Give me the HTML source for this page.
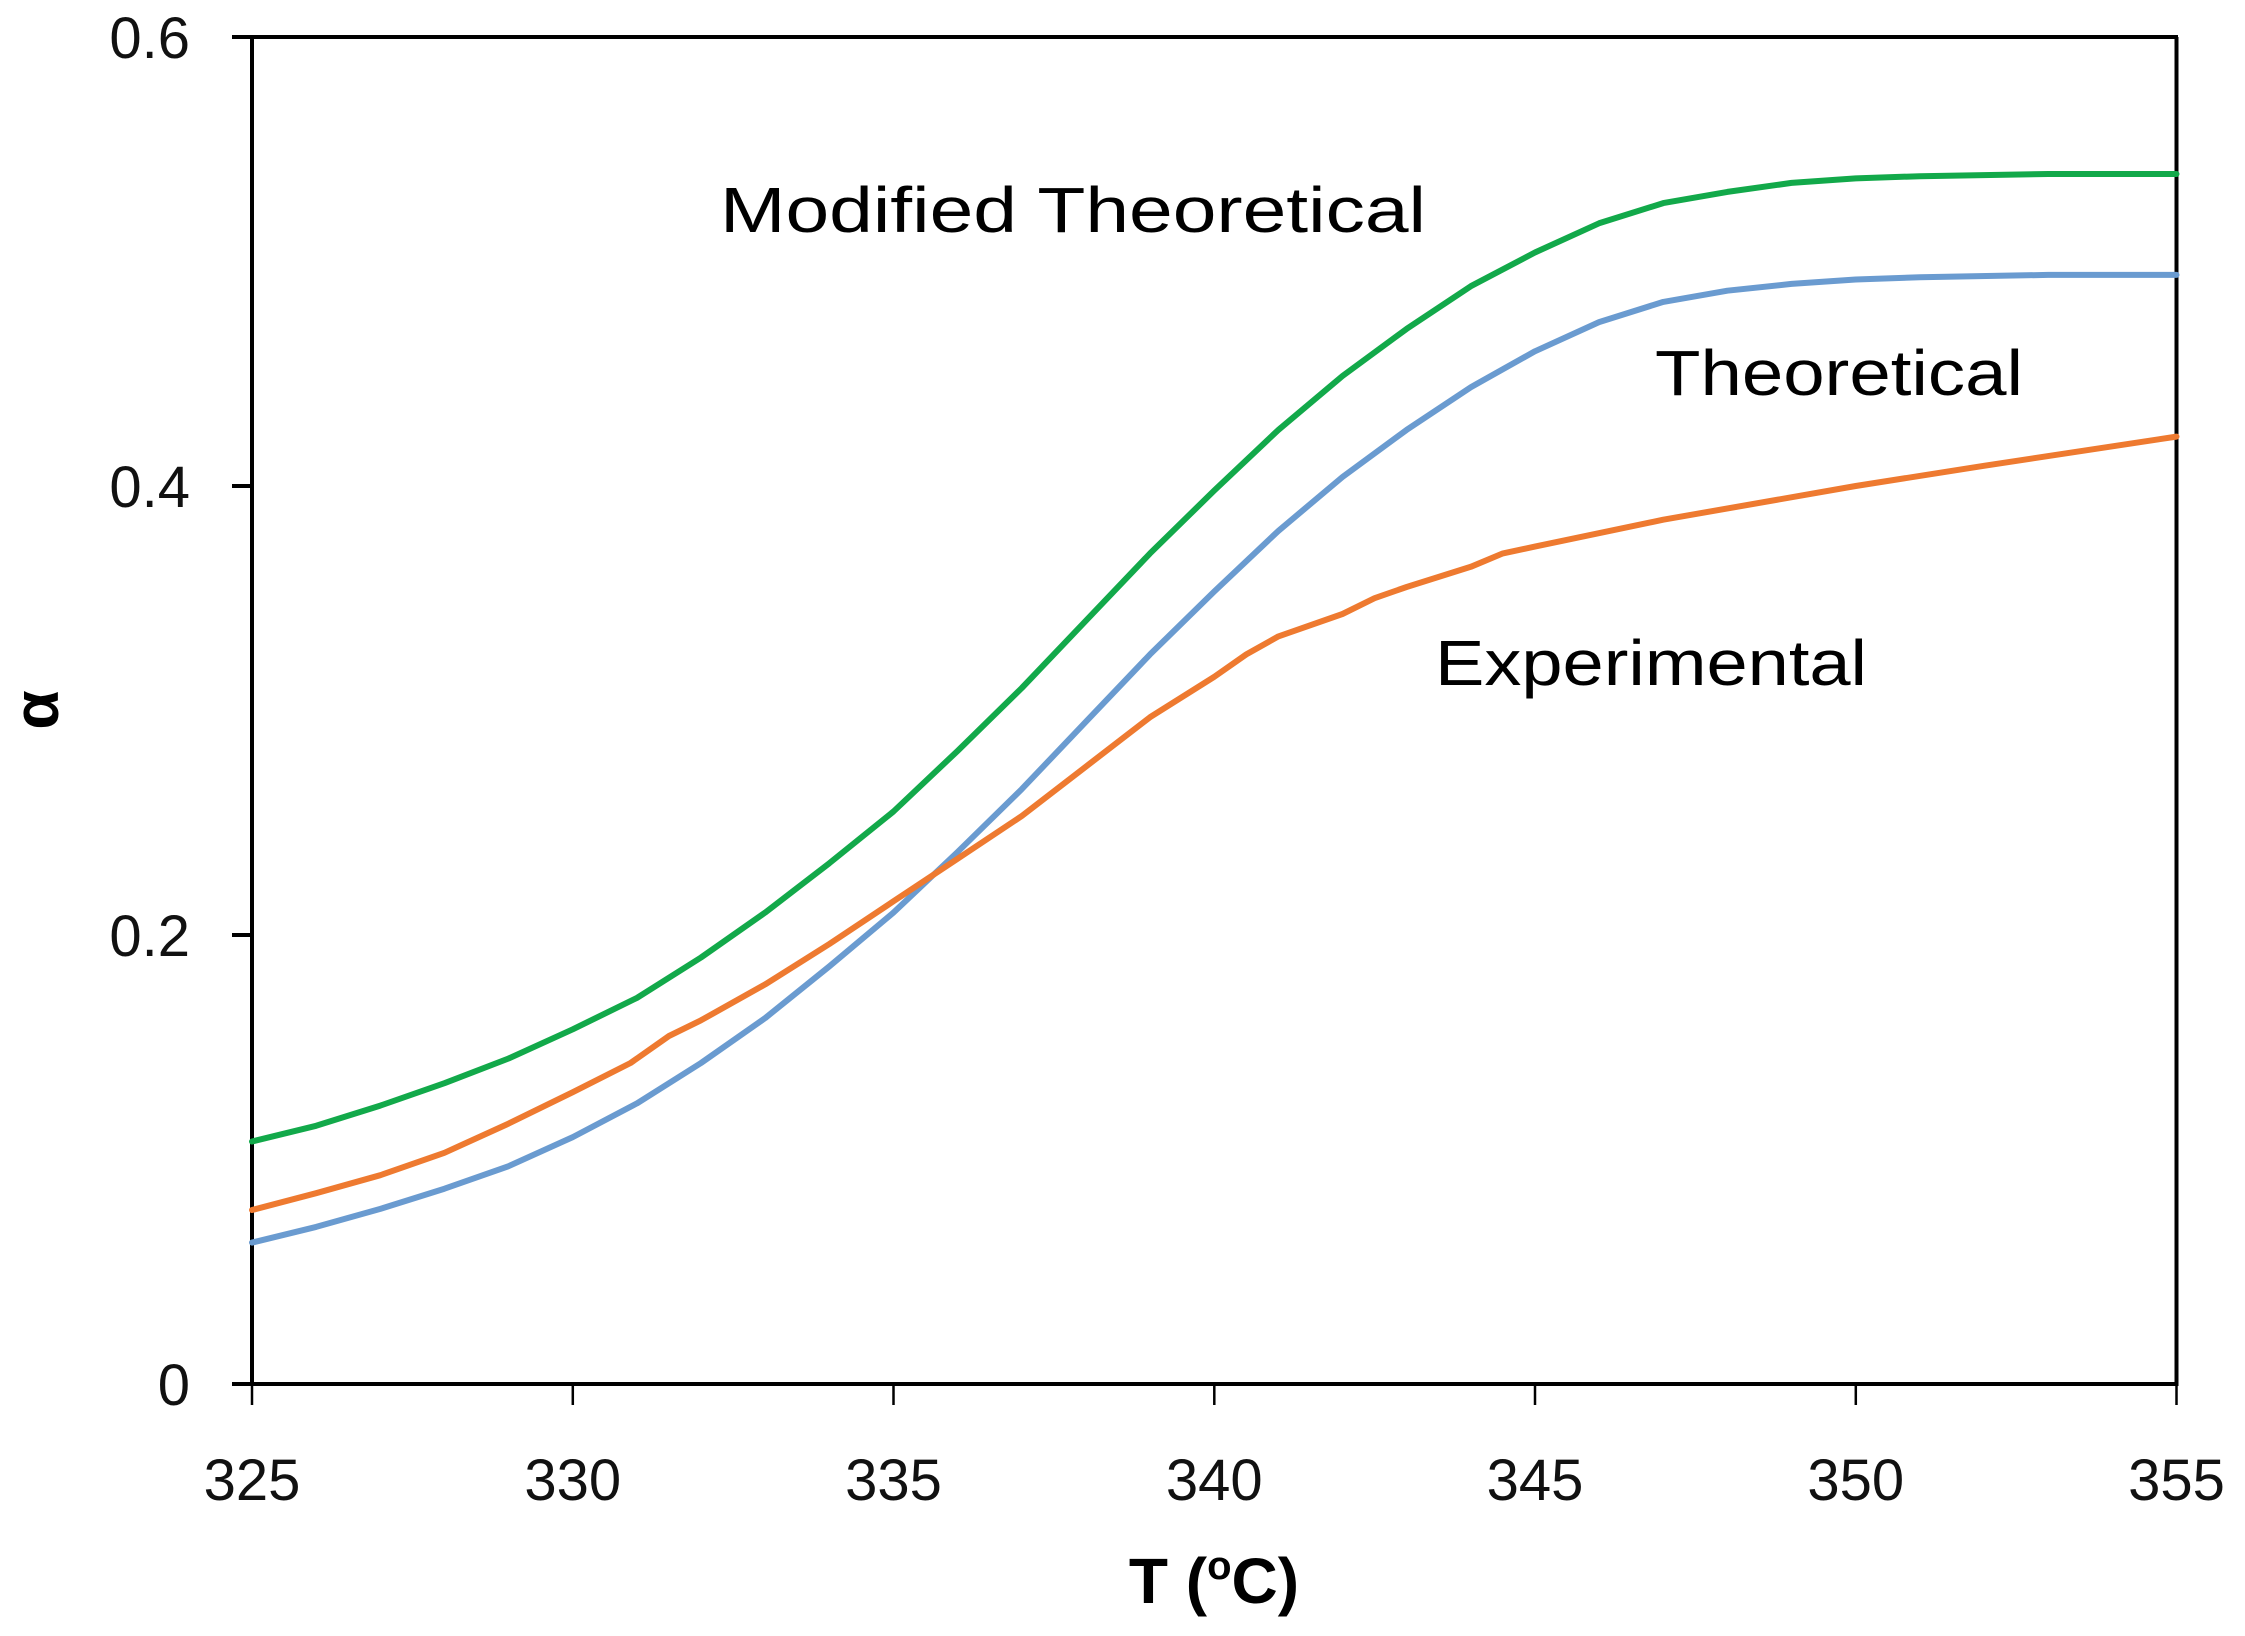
<!DOCTYPE html>
<html><head><meta charset="utf-8"><style>html,body{margin:0;padding:0;background:#fff}svg{display:block}</style></head>
<body>
<svg width="2245" height="1636" viewBox="0 0 2245 1636" xmlns="http://www.w3.org/2000/svg" font-family="'Liberation Sans', sans-serif">
<g stroke="#000" stroke-width="4" fill="none">
<line x1="252" y1="37" x2="252" y2="1386"/>
<line x1="232" y1="37" x2="2178" y2="37"/>
<line x1="2176.5" y1="37" x2="2176.5" y2="1386"/>
<line x1="232" y1="1384" x2="2178" y2="1384"/>
<line x1="232" y1="486" x2="252" y2="486"/>
<line x1="232" y1="935" x2="252" y2="935"/>
</g>
<g stroke="#000" stroke-width="2.5">
<line x1="252" y1="1384" x2="252" y2="1405"/>
<line x1="572.8" y1="1384" x2="572.8" y2="1405"/>
<line x1="893.5" y1="1384" x2="893.5" y2="1405"/>
<line x1="1214.3" y1="1384" x2="1214.3" y2="1405"/>
<line x1="1535" y1="1384" x2="1535" y2="1405"/>
<line x1="1855.8" y1="1384" x2="1855.8" y2="1405"/>
<line x1="2176.5" y1="1384" x2="2176.5" y2="1405"/>
</g>
<g font-size="58" fill="#111" text-anchor="end">
<text x="190" y="58">0.6</text>
<text x="190" y="507">0.4</text>
<text x="190" y="956">0.2</text>
<text x="190" y="1405">0</text>
</g>
<g font-size="58" fill="#111" text-anchor="middle">
<text x="252" y="1500">325</text>
<text x="572.8" y="1500">330</text>
<text x="893.5" y="1500">335</text>
<text x="1214.3" y="1500">340</text>
<text x="1535" y="1500">345</text>
<text x="1855.8" y="1500">350</text>
<text x="2176.5" y="1500">355</text>
</g>
<text x="1214" y="1603" font-size="64" font-weight="bold" text-anchor="middle" fill="#000">T (<tspan font-size="40" dy="-24">o</tspan><tspan dy="24">C)</tspan></text>
<text transform="translate(58,710) rotate(-90)" font-size="64" font-weight="bold" text-anchor="middle" fill="#000">α</text>
<g font-size="64" fill="#000">
<text x="720" y="232" textLength="706" lengthAdjust="spacingAndGlyphs">Modified  Theoretical</text>
<text x="1655" y="395" textLength="368" lengthAdjust="spacingAndGlyphs">Theoretical</text>
<text x="1435" y="685" textLength="432" lengthAdjust="spacingAndGlyphs">Experimental</text>
</g>
<g fill="none" stroke-width="6" stroke-linejoin="round" stroke-linecap="round" transform="translate(252,0) scale(0.9956,1) translate(-252,0)">
<polyline stroke="#12a94a" points="252,1141.5 316.4,1125.8 380.9,1105.6 445.3,1083.2 509.7,1058.5 574.2,1029.3 638.6,997.9 703,957.5 767.4,912.6 831.9,863.2 896.3,811.5 960.7,750.9 1025.2,688 1089.6,620.7 1154,553.4 1218.5,490.5 1282.9,429.9 1347.3,376 1411.7,328.9 1476.2,286.2 1540.6,252.5 1605,223.3 1669.5,203.1 1733.9,191.9 1798.3,182.9 1862.8,178.4 1927.2,176.2 2056,174 2185,174"/>
<polyline stroke="#6a9bd0" points="252,1242.6 316.4,1226.9 380.9,1208.9 445.3,1188.7 509.7,1166.2 574.2,1137.1 638.6,1103.4 703,1063 767.4,1018.1 831.9,966.4 896.3,912.6 960.7,852 1025.2,789.1 1089.6,721.7 1154,654.4 1218.5,591.5 1282.9,530.9 1347.3,477 1411.7,429.9 1476.2,387.2 1540.6,351.3 1605,322.1 1669.5,301.9 1733.9,290.7 1798.3,283.9 1862.8,279.5 1927.2,277.2 2056,274.9 2185,274.9"/>
<polyline stroke="#ee7a30" points="252,1210 316.4,1193.2 380.9,1175.2 445.3,1152.8 509.7,1123.6 574.2,1092.2 632.2,1063 670.8,1036 703,1020.3 767.4,984.4 831.9,944 896.3,901.3 960.7,858.7 1025.2,816 1089.6,766.6 1154,717.2 1218.5,676.8 1250.7,654.4 1282.9,636.4 1347.3,614 1379.5,598.2 1411.7,587 1476.2,566.8 1508.4,553.4 1540.6,546.6 1669.5,519.7 1862.8,486 1991.6,465.8 2185,436.6"/>
</g>
</svg>
</body></html>
